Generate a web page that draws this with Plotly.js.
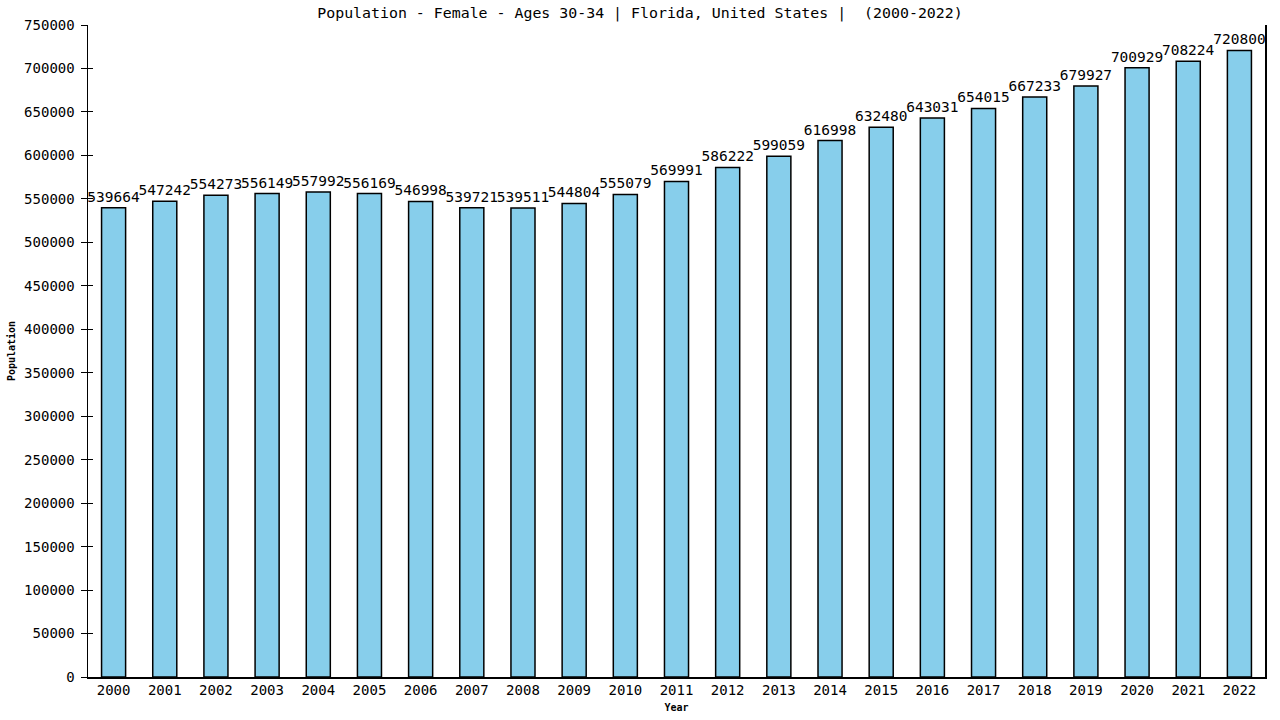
<!DOCTYPE html>
<html>
<head>
<meta charset="utf-8">
<script src="https://cdn.plot.ly/plotly-3.0.1.min.js"></script>
<style>html,body{margin:0;padding:0;background:#fff;}#chart{width:1280px;height:720px;}</style>
</head>
<body>
<div id="chart"></div>
<script>
const years = ["2000","2001","2002","2003","2004","2005","2006","2007","2008","2009","2010","2011","2012","2013","2014","2015","2016","2017","2018","2019","2020","2021","2022"];
const population = [539664,547242,554273,556149,557992,556169,546998,539721,539511,544804,555079,569991,586222,599059,616998,632480,643031,654015,667233,679927,700929,708224,720800];
const yTicks = [0,50000,100000,150000,200000,250000,300000,350000,400000,450000,500000,550000,600000,650000,700000,750000];

const FONT = "DejaVu Sans Mono, monospace";

const trace = {
  type: "bar",
  x: years,
  y: population,
  width: 0.47,
  marker: {color: "#87CEEB", line: {color: "#000000", width: 1.5}},
  text: population.map(String),
  textposition: "outside",
  constraintext: "none",
  textfont: {family: FONT, size: 14.5, color: "#000"},
  cliponaxis: false,
  hoverinfo: "x+y"
};
const tickTrace = {type: "scatter", x: [], y: [], yaxis: "y2", showlegend: false, hoverinfo: "skip"};

const layout = {
  width: 1280, height: 720,
  margin: {l: 88, r: 15, t: 25, b: 43, pad: 0},
  paper_bgcolor: "#fff", plot_bgcolor: "#fff",
  showlegend: false,
  uniformtext: {mode: false},
  title: {text: "Population - Female - Ages 30-34 | Florida, United States |  (2000-2022)",
          font: {family: FONT, size: 14.9, color: "#000"},
          x: 0.5, xanchor: "center", xref: "container", y: 1 - 13/720, yanchor: "middle", yref: "container"},
  xaxis: {
    type: "category", range: [-0.5, 22.5],
    showline: true, linecolor: "#000", linewidth: 1.5,
    ticks: "", showgrid: false, zeroline: false,
    tickfont: {family: FONT, size: 14, color: "#000"},
    title: {text: "<b>Year</b>", font: {family: FONT, size: 10, color: "#000"}, standoff: 6}
  },
  yaxis: {
    range: [0, 750000], tickvals: yTicks, ticktext: yTicks.map(String),
    showline: true, mirror: true, linecolor: "#000", linewidth: 1.5,
    ticks: "outside", ticklen: 6, tickcolor: "#000", tickwidth: 1,
    ticklabelstandoff: 3,
    showgrid: false, zeroline: false,
    tickfont: {family: FONT, size: 14, color: "#000"},
    title: {text: "<b>Population</b>", font: {family: FONT, size: 10, color: "#000"}, standoff: 6}
  },
  yaxis2: {
    overlaying: "y", side: "left", range: [0, 750000], tickvals: yTicks,
    showticklabels: false, ticks: "inside", ticklen: 5, tickcolor: "#000", tickwidth: 1,
    showgrid: false, zeroline: false, showline: false
  },
  bargap: 0.53
};

Plotly.newPlot("chart", [trace, tickTrace], layout, {staticPlot: true});
</script>
</body>
</html>
